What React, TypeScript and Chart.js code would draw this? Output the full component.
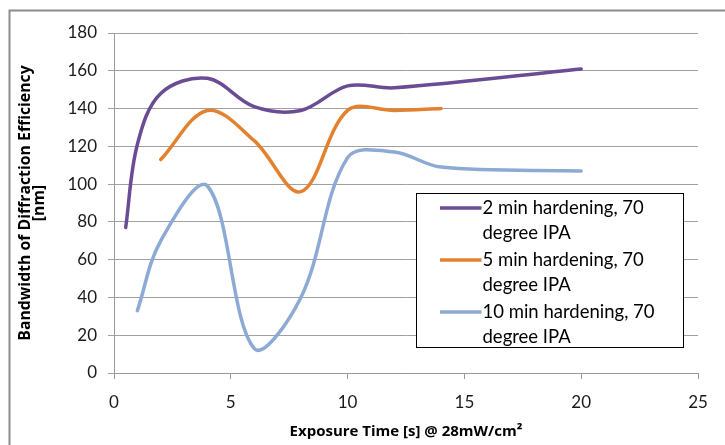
import React, { useEffect, useRef } from 'react';
import { Chart, registerables } from 'chart.js';

Chart.register(...registerables);

const seriesLabels: string[][] = [
  ['2 min hardening, 70', 'degree IPA'],
  ['5 min hardening, 70', 'degree IPA'],
  ['10 min hardening, 70', 'degree IPA'],
];
const seriesColors = ['#6A4C94', '#E3812F', '#8DAAD5'];

const x2min = [0.5, 1, 2, 4, 6, 8, 10, 12, 20];
const y2min = [77, 121, 148, 156, 141, 139, 152, 151, 161];
const x5min = [2, 4, 6, 8, 10, 12, 14];
const y5min = [113, 139, 123, 96, 139, 139, 140];
const x10min = [1, 2, 4, 6, 8, 10, 12, 14, 20];
const y10min = [33, 70, 99, 13, 40, 114, 117, 109, 107];

const xAxisTitle = 'Exposure Time [s] @ 28mW/cm\u00B2';
const yAxisTitle = ['Bandwidth of Diffraction Efficiency', '[nm]'];
const xMin = 0, xMax = 25, xStep = 5;
const yMin = 0, yMax = 180, yStep = 20;

const FONT = 'Lato';
const TITLE_FONT = '"Open Sans"';

const toPoints = (xs: number[], ys: number[]) => xs.map((x, i) => ({ x, y: ys[i] }));

const framePlugin = {
  id: 'frame',
  beforeDraw(chart: any) {
    const ctx = chart.ctx;
    ctx.save();
    ctx.fillStyle = '#ffffff';
    ctx.fillRect(0, 0, chart.width, chart.height);
    ctx.strokeStyle = '#8C8C8C';
    ctx.lineWidth = 2;
    ctx.strokeRect(9.5, 10.5, 800, 500);
    ctx.restore();
  },
};

const legendPlugin = {
  id: 'customLegend',
  afterDraw(chart: any) {
    const ctx = chart.ctx;
    const area = chart.chartArea;
    const bx = area.left + 302.5;
    const by = 193.5;
    const bw = 267;
    const bh = 154;
    ctx.save();
    ctx.fillStyle = '#ffffff';
    ctx.fillRect(bx, by, bw, bh);
    ctx.strokeStyle = '#000000';
    ctx.lineWidth = 1;
    ctx.strokeRect(bx, by, bw, bh);
    ctx.font = `18.5px ${FONT}`;
    ctx.textBaseline = 'middle';
    ctx.textAlign = 'left';
    chart.data.datasets.forEach((ds: any, i: number) => {
      const y0 = by + 14.5 + i * 52;
      ctx.strokeStyle = ds.borderColor;
      ctx.lineWidth = 3.5;
      ctx.lineCap = 'butt';
      ctx.beginPath();
      ctx.moveTo(bx + 23.5, y0);
      ctx.lineTo(bx + 65, y0);
      ctx.stroke();
      ctx.fillStyle = '#000000';
      const lines: string[] = seriesLabels[i];
      lines.forEach((t, j) => ctx.fillText(t, bx + 66, y0 + j * 25));
    });
    ctx.restore();
  },
};

export default function App() {
  const ref = useRef<HTMLCanvasElement | null>(null);
  useEffect(() => {
    if (!ref.current) return;
    const data = [toPoints(x2min, y2min), toPoints(x5min, y5min), toPoints(x10min, y10min)];
    const chart = new Chart(ref.current, {
      type: 'line',
      data: {
        datasets: data.map((d, i) => ({
          label: seriesLabels[i].join(' '),
          data: d,
          borderColor: seriesColors[i],
          backgroundColor: seriesColors[i],
          borderWidth: 3.5,
          pointRadius: 0,
          tension: 0.35,
          borderCapStyle: 'round',
          fill: false,
        })),
      },
      options: {
        animation: false,
        responsive: false,
        maintainAspectRatio: false,
        layout: { padding: { top: 33, right: 27, bottom: 0, left: 0 } },
        plugins: { legend: { display: false }, tooltip: { enabled: false } },
        scales: {
          x: {
            type: 'linear',
            min: xMin,
            max: xMax,
            afterFit: (s: any) => { s.height = 72; },
            ticks: { stepSize: xStep, font: { family: FONT, size: 17 }, color: '#1a1a1a', padding: 13, maxRotation: 0 },
            grid: { drawOnChartArea: false, drawTicks: true, tickLength: 6, color: '#999999' },
            border: { color: '#999999' },
            title: {
              display: true,
              text: xAxisTitle,
              font: { family: TITLE_FONT, size: 15, weight: 'bold' },
              color: '#000000',
              padding: { top: 0, bottom: 4 },
            },
          },
          y: {
            type: 'linear',
            min: yMin,
            max: yMax,
            afterFit: (s: any) => { s.width = 114; },
            ticks: { stepSize: yStep, font: { family: FONT, size: 17 }, color: '#1a1a1a', padding: 11 },
            grid: { color: '#A0A0A0', tickLength: 6 },
            border: { color: '#999999' },
            title: {
              display: true,
              text: yAxisTitle,
              font: { family: TITLE_FONT, size: 15.8, weight: 'bold', lineHeight: '14px' },
              color: '#000000',
              padding: { top: 18.5, bottom: 0 },
            },
          },
        },
      },
      plugins: [framePlugin, legendPlugin],
    } as any);
    return () => chart.destroy();
  }, []);
  return (
    <div style={{ position: 'fixed', left: 0, top: 0, width: 725, height: 445 }}>
      <canvas ref={ref} width={725} height={445} style={{ display: 'block' }} />
    </div>
  );
}
